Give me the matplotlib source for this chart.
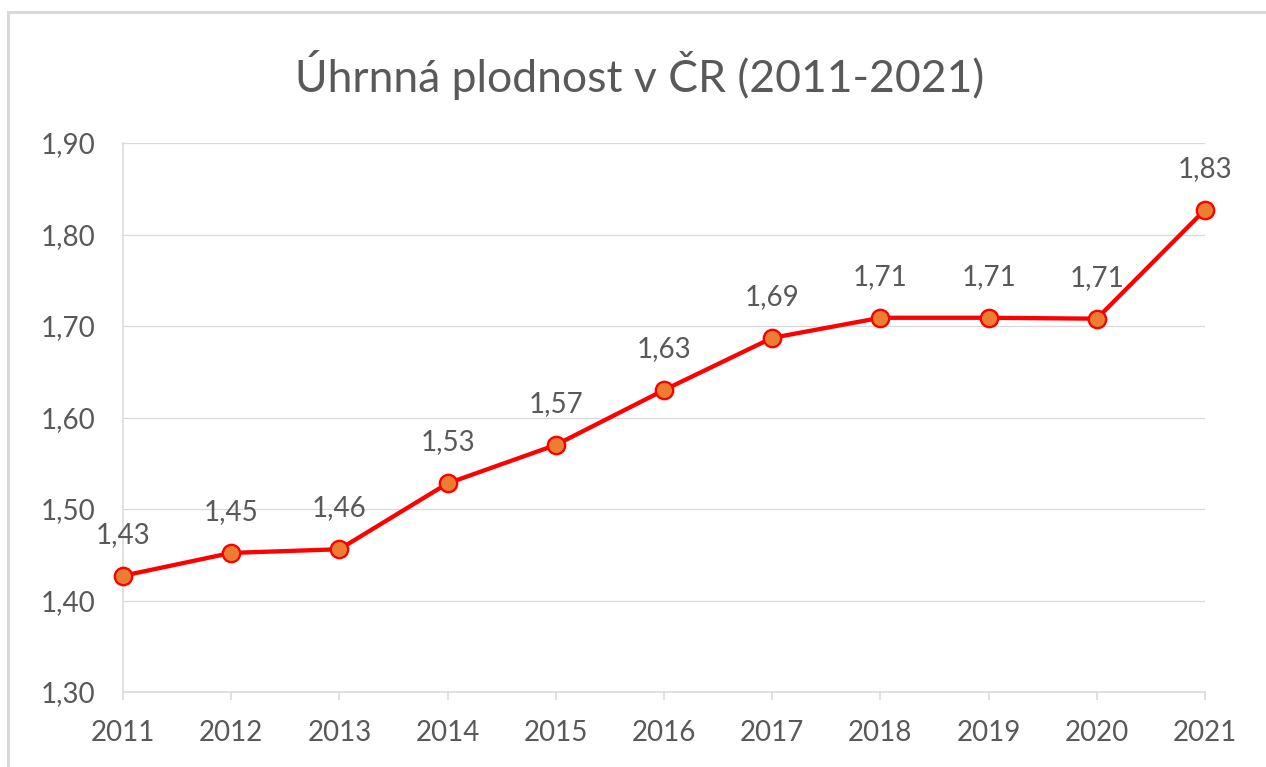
import matplotlib
matplotlib.use("Agg")
import matplotlib.pyplot as plt
from matplotlib.patches import Rectangle

years = [2011, 2012, 2013, 2014, 2015, 2016, 2017, 2018, 2019, 2020, 2021]
fertility = [1.427, 1.452, 1.456, 1.528, 1.570, 1.630, 1.687, 1.709, 1.709, 1.708, 1.827]
y_ticks = [1.30, 1.40, 1.50, 1.60, 1.70, 1.80, 1.90]
title = "Úhrnná plodnost v ČR (2011-2021)"

plt.rcParams['font.family'] = ['Lato', 'DejaVu Sans']
text_color = "#595959"
grid_color = "#D9D9D9"

fig = plt.figure(figsize=(12.66, 7.67), dpi=100)
fig.patch.set_facecolor("white")
ax = fig.add_axes([123/1266, 1 - 692/767, (1205 - 123)/1266, (692 - 143)/767])

ax.plot(years, fertility, color="#FF0000", linewidth=3.1, marker="o",
        markersize=12.5, markerfacecolor="#ED7D31", markeredgecolor="#FF0000",
        markeredgewidth=1.7, zorder=3, clip_on=False)

for x, y in zip(years, fertility):
    ax.annotate(f"{y:.2f}".replace(".", ","), (x, y), xytext=(0, 29.5),
                textcoords="offset points", ha="center", va="center",
                fontsize=20, color=text_color)

ax.set_xlim(years[0], years[-1])
ax.set_ylim(y_ticks[0], y_ticks[-1])
ax.set_yticks(y_ticks)
ax.set_yticklabels([f"{v:.2f}".replace(".", ",") for v in y_ticks])
ax.set_xticks(years)
ax.set_xticklabels([str(y) for y in years])

ax.grid(axis="y", color=grid_color, linewidth=0.9)
ax.set_axisbelow(True)
for s in ["top", "right"]:
    ax.spines[s].set_visible(False)
for s in ["left", "bottom"]:
    ax.spines[s].set_color(grid_color)
    ax.spines[s].set_linewidth(1.1)

ax.tick_params(axis="y", length=0, pad=20, labelsize=20, labelcolor=text_color)
ax.tick_params(axis="x", length=6, width=1.1, color=grid_color, pad=14,
               labelsize=20, labelcolor=text_color)

fig.text(0.505, 1 - 75/767, title, ha="center", va="center",
         fontsize=32, color=text_color)

fig.patches.append(Rectangle((8/1266, -0.05), 1.1, 1 - 12/767 + 0.05,
                             transform=fig.transFigure, fill=False,
                             edgecolor=grid_color, linewidth=2.2))

fig.savefig("out.png", dpi=100, facecolor="white")
